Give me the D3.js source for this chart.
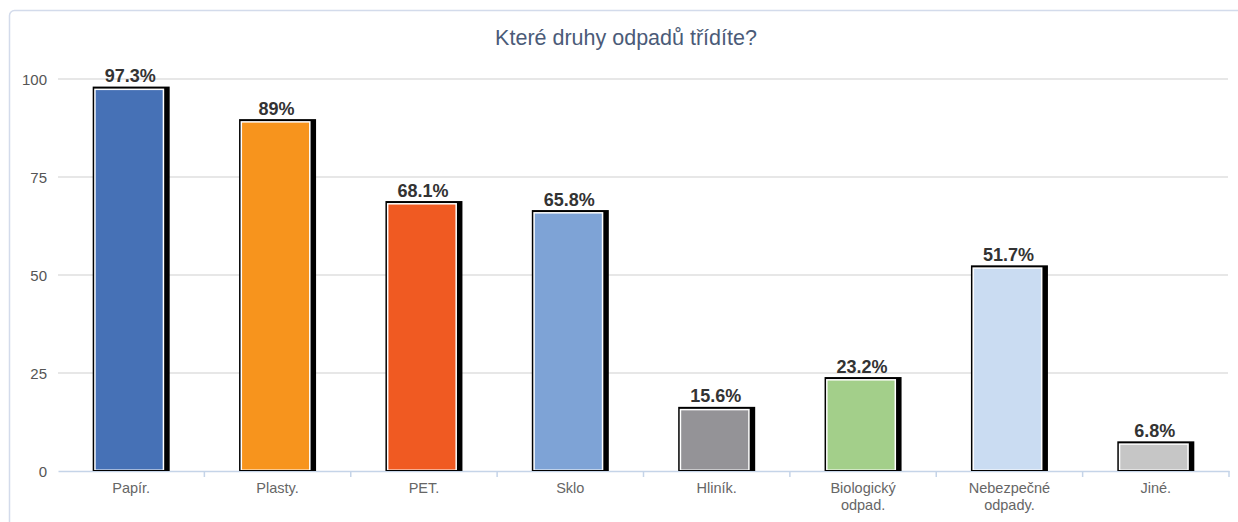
<!DOCTYPE html>
<html><head><meta charset="utf-8">
<script src="https://cdn.jsdelivr.net/npm/d3@7"></script>
<style>body{margin:0;background:#fff;}svg{display:block;font-family:"Liberation Sans",Arial,sans-serif;}</style>
</head><body><svg id="c" width="1238" height="522"></svg>
<script>
const title = "Které druhy odpadů třídíte?";
const categories = ["Papír.", "Plasty.", "PET.", "Sklo", "Hliník.", "Biologický odpad.", "Nebezpečné odpady.", "Jiné."];
const categoryLines = [["Papír."], ["Plasty."], ["PET."], ["Sklo"], ["Hliník."], ["Biologický", "odpad."], ["Nebezpečné", "odpady."], ["Jiné."]];
const values = [97.3, 89, 68.1, 65.8, 15.6, 23.2, 51.7, 6.8];
const valueLabels = ["97.3%", "89%", "68.1%", "65.8%", "15.6%", "23.2%", "51.7%", "6.8%"];
const colors = ["#4671b6", "#f7941d", "#f05a22", "#7ea3d6", "#949397", "#a3cf8a", "#cadcf2", "#c6c6c6"];
const yTicks = [0, 25, 50, 75, 100];

const svg = d3.select("#c");
// outer frame
svg.append("rect").attr("x", 9.5).attr("y", 10.5).attr("width", 1250).attr("height", 540)
  .attr("rx", 5).attr("fill", "#fff").attr("stroke", "#d3dbeb").attr("stroke-width", 1.5);

svg.append("text").attr("x", 626).attr("y", 45).attr("text-anchor", "middle")
  .attr("fill", "#4b5b78").attr("font-size", 21.5).text(title);

const x = d3.scaleBand().domain(categories).range([58, 1229]).paddingInner(0).paddingOuter(0);
const y = d3.scaleLinear().domain([0, 100]).range([471, 79]);

// gridlines
svg.append("g").selectAll("line").data(yTicks.filter(d => d > 0)).join("line")
  .attr("x1", 58).attr("x2", 1228).attr("y1", d => y(d)).attr("y2", d => y(d))
  .attr("stroke", "#d0d0d0").attr("stroke-width", 1.2);

// y axis labels
svg.append("g").selectAll("text").data(yTicks).join("text")
  .attr("x", 47).attr("y", d => y(d) + 5.5).attr("text-anchor", "end")
  .attr("fill", "#555").attr("font-size", 15).text(d => d);

// x axis
const xAxis = d3.axisBottom(x).tickSize(0).tickFormat("");
const gx = svg.append("g").attr("transform", `translate(0,${y(0)})`).call(xAxis);
gx.select(".domain").attr("stroke", "#c5d4e8").attr("stroke-width", 1.5);
// boundary ticks
const bounds = categories.map(c => x(c)).concat([x(categories[categories.length - 1]) + x.bandwidth()]).slice(1);
svg.append("g").selectAll("line").data(bounds).join("line")
  .attr("x1", d => d).attr("x2", d => d).attr("y1", y(0)).attr("y2", y(0) + 6)
  .attr("stroke", "#c5d4e8").attr("stroke-width", 1.5);

// category labels
const cl = svg.append("g").selectAll("text").data(categories).join("text")
  .attr("text-anchor", "middle").attr("fill", "#666").attr("font-size", 14.5)
  .attr("x", d => x(d) + x.bandwidth() / 2).attr("y", 493);
cl.each(function (d, i) {
  const t = d3.select(this);
  categoryLines[i].forEach((ln, k) => {
    t.append("tspan").attr("x", x(d) + x.bandwidth() / 2).attr("dy", k === 0 ? 0 : 16.5).text(ln);
  });
});

// bars
const bw = 73;
const bars = svg.append("g").selectAll("g").data(categories).join("g");
bars.each(function (d, i) {
  const g = d3.select(this);
  const cx = x(d) + x.bandwidth() / 2 - 2;
  const x0 = cx - bw / 2;
  const top = y(values[i]);
  const base = y(0);
  g.append("rect").attr("x", x0).attr("y", top - 3).attr("width", bw + 4).attr("height", base - top + 3)
    .attr("fill", "#000");
  g.append("rect").attr("x", x0 + 1.5).attr("y", top - 1).attr("width", bw - 3).attr("height", base - top)
    .attr("fill", "#fff");
  g.append("rect").attr("x", x0 + 3).attr("y", top + 0.5).attr("width", bw - 6).attr("height", base - top - 2)
    .attr("fill", colors[i]);
  g.append("text").attr("x", cx + 1).attr("y", top - 7.5).attr("text-anchor", "middle")
    .attr("font-weight", "bold").attr("font-size", 18).attr("fill", "#333").text(valueLabels[i]);
});
</script></body></html>
